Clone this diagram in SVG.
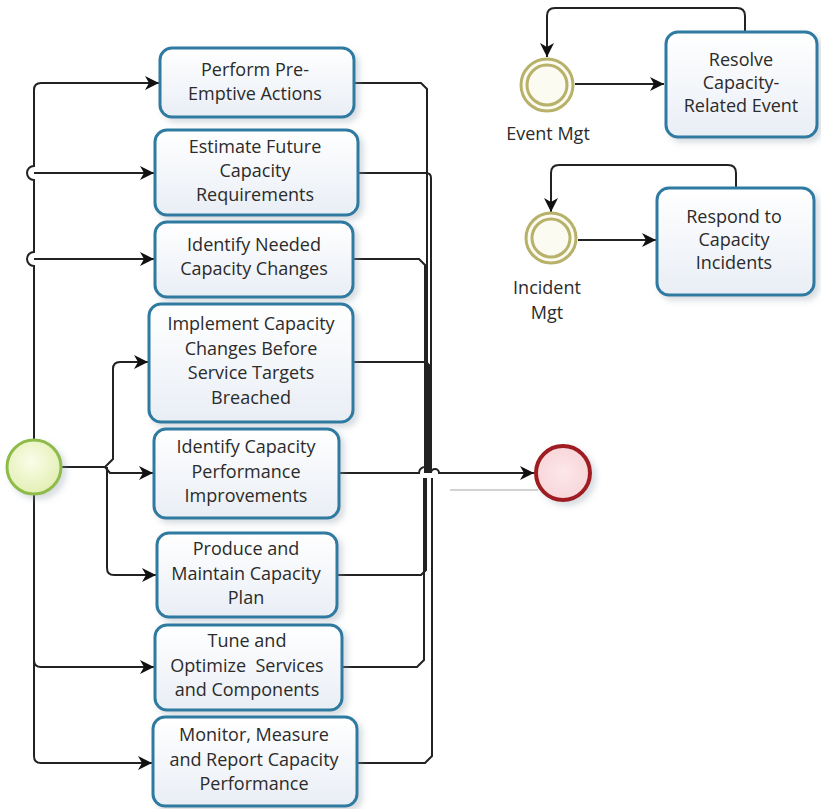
<svg xmlns="http://www.w3.org/2000/svg" width="821" height="809" viewBox="0 0 821 809">
  <defs>
    <linearGradient id="taskFill" x1="0" y1="0" x2="0" y2="1">
      <stop offset="0" stop-color="#ffffff"/>
      <stop offset="1" stop-color="#e9eef5"/>
    </linearGradient>
    <radialGradient id="startFill" cx="0.45" cy="0.4" r="0.6">
      <stop offset="0" stop-color="#fbfde9"/>
      <stop offset="1" stop-color="#e2efb4"/>
    </radialGradient>
    <radialGradient id="endFill" cx="0.5" cy="0.5" r="0.6">
      <stop offset="0" stop-color="#fde7ea"/>
      <stop offset="1" stop-color="#f6d3d6"/>
    </radialGradient>
    <filter id="shadow" x="-10%" y="-10%" width="130%" height="130%">
      <feDropShadow dx="4" dy="4" stdDeviation="3" flood-color="#8a9aa8" flood-opacity="0.35"/>
    </filter>
    <marker id="arrow" markerUnits="userSpaceOnUse" markerWidth="16" markerHeight="14" refX="14" refY="7" orient="auto">
      <path d="M0,0 L14,7 L0,14 L4,7 Z" fill="#111"/>
    </marker>
  </defs>
  <style>
    .task { fill: url(#taskFill); stroke: #2e7aa0; stroke-width: 3; filter: url(#shadow); }
    .label { font-family: "Open Sans", "Liberation Sans", sans-serif; font-size: 18px; fill: #2b2b2b; text-anchor: middle; }
    .flow { fill: none; stroke: #222; stroke-width: 2; }
    .ghost { fill: none; stroke: #d2d2d2; stroke-width: 2; }
    .inter { fill: #fbfbf2; stroke: #b7b16a; stroke-width: 3; }
  </style>

  <rect width="821" height="809" fill="#ffffff"/>

  <!-- connectors -->
  <g id="connectors">
    <!-- faint trace below the merge into the end event -->
    <path class="ghost" d="M450,490 H538"/>

    <!-- start event fan-out on the left trunk, hopping at the branch points -->
    <path class="flow" d="M34,440 V266 A7,7 0 0 1 34,252 V180 A7,7 0 0 1 34,166 V90 Q34,83 41,83 H159" marker-end="url(#arrow)"/>
    <path class="flow" d="M34,173 H154" marker-end="url(#arrow)"/>
    <path class="flow" d="M34,259 H154" marker-end="url(#arrow)"/>
    <path class="flow" d="M34,494 V756 Q34,763 41,763 H152" marker-end="url(#arrow)"/>
    <path class="flow" d="M34,660 Q34,667 41,667 H154" marker-end="url(#arrow)"/>

    <!-- start event to the inner branch -->
    <path class="flow" d="M61,467 H105 L113,459 V369 Q113,362 120,362 H148" marker-end="url(#arrow)"/>
    <path class="flow" d="M105,467 L110,473 H153" marker-end="url(#arrow)"/>
    <path class="flow" d="M107,467 V568 Q107,575 114,575 H156" marker-end="url(#arrow)"/>

    <!-- task outputs merging into the end event -->
    <path class="flow" d="M354,83 H421 L427,89 V473"/>
    <path class="flow" d="M358,173 H426 Q431,173 431,178 V473"/>
    <path class="flow" d="M354,259 H419 L425,265 V473"/>
    <path class="flow" d="M354,362 H426 L429,365 V473"/>
    <path class="flow" d="M337,575 H421 L426,570 V478"/>
    <path class="flow" d="M342,667 H417 L424,660 V478"/>
    <path class="flow" d="M357,763 H425 L432,756 V478"/>
    <path class="flow" d="M339,473 H419 A6,6 0 0 1 431,473 A4,4 0 0 1 439,473 H534" marker-end="url(#arrow)"/>

    <!-- event management loop -->
    <path class="flow" d="M575,84 H664" marker-end="url(#arrow)"/>
    <path class="flow" d="M745,32 V16 Q745,8 737,8 H555 Q547,8 547,16 V57" marker-end="url(#arrow)"/>

    <!-- incident management loop -->
    <path class="flow" d="M578,240 H656" marker-end="url(#arrow)"/>
    <path class="flow" d="M736,188 V173 Q736,165 728,165 H559 Q551,165 551,173 V212" marker-end="url(#arrow)"/>
  </g>

  <!-- events -->
  <g id="start">
    <circle cx="34" cy="467" r="27" fill="url(#startFill)" stroke="#8fbb4c" stroke-width="3" filter="url(#shadow)"/>
  </g>
  <g id="end">
    <circle cx="563" cy="473" r="27" fill="url(#endFill)" stroke="#9e1c20" stroke-width="4" filter="url(#shadow)"/>
  </g>
  <g id="event-mgt">
    <circle class="inter" cx="547" cy="85" r="26"/>
    <circle class="inter" cx="547" cy="85" r="20" stroke-width="2"/>
    <text class="label" x="548" y="140">Event Mgt</text>
  </g>
  <g id="incident-mgt">
    <circle class="inter" cx="551" cy="238" r="25"/>
    <circle class="inter" cx="551" cy="238" r="19" stroke-width="2"/>
    <text class="label" x="547" y="294">Incident</text>
    <text class="label" x="547" y="319">Mgt</text>
  </g>

  <!-- tasks -->
  <g id="perform-pre-emptive">
    <rect class="task" x="160" y="48" width="194" height="69" rx="12"/>
    <text class="label" x="255" y="76">Perform Pre-</text>
    <text class="label" x="255" y="100">Emptive Actions</text>
  </g>
  <g id="estimate-future">
    <rect class="task" x="155" y="130" width="203" height="85" rx="12"/>
    <text class="label" x="255" y="153">Estimate Future</text>
    <text class="label" x="255" y="177">Capacity</text>
    <text class="label" x="255" y="201">Requirements</text>
  </g>
  <g id="identify-needed">
    <rect class="task" x="155" y="222" width="198" height="75" rx="12"/>
    <text class="label" x="254" y="251">Identify Needed</text>
    <text class="label" x="254" y="275">Capacity Changes</text>
  </g>
  <g id="implement-changes">
    <rect class="task" x="149" y="304" width="204" height="118" rx="12"/>
    <text class="label" x="251" y="330">Implement Capacity</text>
    <text class="label" x="251" y="355">Changes Before</text>
    <text class="label" x="251" y="379">Service Targets</text>
    <text class="label" x="251" y="404">Breached</text>
  </g>
  <g id="identify-performance">
    <rect class="task" x="154" y="429" width="185" height="89" rx="12"/>
    <text class="label" x="246" y="453">Identify Capacity</text>
    <text class="label" x="246" y="478">Performance</text>
    <text class="label" x="246" y="502">Improvements</text>
  </g>
  <g id="produce-plan">
    <rect class="task" x="157" y="533" width="180" height="84" rx="12"/>
    <text class="label" x="246" y="555">Produce and</text>
    <text class="label" x="246" y="580">Maintain Capacity</text>
    <text class="label" x="246" y="604">Plan</text>
  </g>
  <g id="tune-optimize">
    <rect class="task" x="155" y="625" width="187" height="85" rx="12"/>
    <text class="label" x="247" y="647">Tune and</text>
    <text class="label" x="247" y="672" xml:space="preserve">Optimize  Services</text>
    <text class="label" x="247" y="696">and Components</text>
  </g>
  <g id="monitor-measure">
    <rect class="task" x="153" y="717" width="204" height="89" rx="12"/>
    <text class="label" x="254" y="741">Monitor, Measure</text>
    <text class="label" x="254" y="766">and Report Capacity</text>
    <text class="label" x="254" y="790">Performance</text>
  </g>
  <g id="resolve-event">
    <rect class="task" x="666" y="32" width="151" height="105" rx="12"/>
    <text class="label" x="741" y="66">Resolve</text>
    <text class="label" x="741" y="89">Capacity-</text>
    <text class="label" x="741" y="112">Related Event</text>
  </g>
  <g id="respond-incidents">
    <rect class="task" x="657" y="188" width="157" height="107" rx="12"/>
    <text class="label" x="734" y="223">Respond to</text>
    <text class="label" x="734" y="246">Capacity</text>
    <text class="label" x="734" y="269">Incidents</text>
  </g>
</svg>
